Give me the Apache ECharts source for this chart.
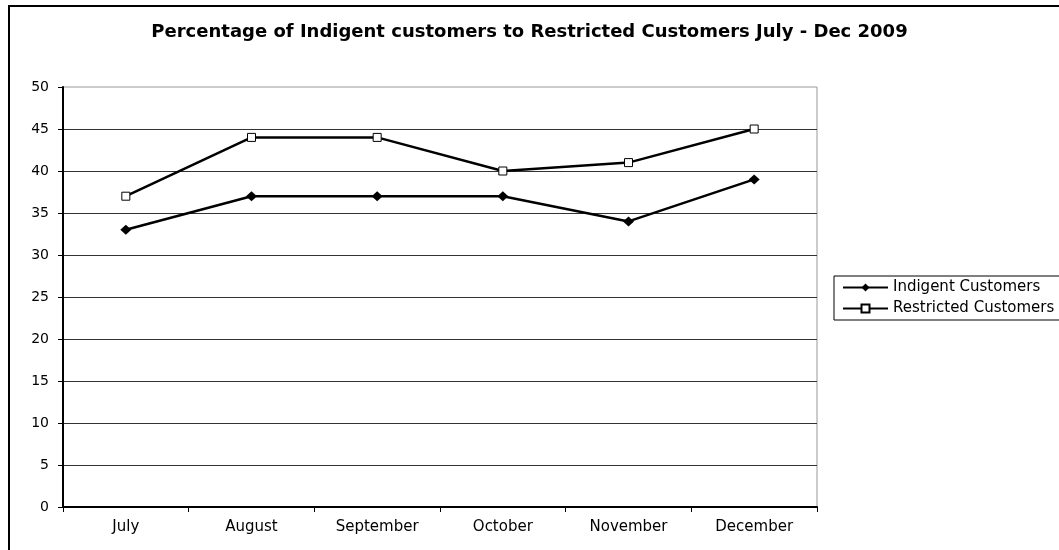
<!DOCTYPE html>
<html>
<head>
<meta charset="utf-8">
<script src="https://cdn.jsdelivr.net/npm/echarts@6/dist/echarts.min.js"></script>
<style>
html,body{margin:0;padding:0;background:#fff;}
#chart{width:1059px;height:550px;}
</style>
</head>
<body>
<div id="chart"></div>
<script>
const titleText = 'Percentage of Indigent customers to Restricted Customers July - Dec 2009';
const categories = ['July', 'August', 'September', 'October', 'November', 'December'];
const indigent = [33, 37, 37, 37, 34, 39];
const restricted = [37, 44, 44, 40, 41, 45];
const seriesNames = ['Indigent Customers', 'Restricted Customers'];

const chart = echarts.init(document.getElementById('chart'), null, {renderer: 'canvas'});
const FONT = 'DejaVu Sans';
chart.setOption({
  animation: false,
  backgroundColor: '#fff',
  title: {
    text: titleText,
    left: 'center',
    top: 23,
    padding: 0,
    textStyle: {fontFamily: FONT, fontWeight: 'bold', fontSize: 18, color: '#000'}
  },
  graphic: [{
    type: 'rect', silent: true, z: -10,
    shape: {x: 9, y: 6, width: 1200, height: 700},
    style: {fill: null, stroke: '#000', lineWidth: 2}
  }],
  legend: {
    orient: 'vertical',
    left: 834,
    top: 276,
    padding: [4, 6, 4, 8],
    itemGap: 6,
    itemWidth: 45,
    itemHeight: 10,
    borderColor: '#000',
    borderWidth: 1,
    data: seriesNames,
    textStyle: {fontFamily: FONT, fontSize: 15, color: '#000'}
  },
  grid: {
    left: 63, right: 242, top: 87, bottom: 43,
    show: true, borderColor: '#999', borderWidth: 1, containLabel: false
  },
  xAxis: {
    type: 'category',
    data: categories,
    boundaryGap: true,
    axisLine: {show: true, lineStyle: {color: '#000', width: 2}},
    axisTick: {show: true, inside: false, length: 5, alignWithLabel: false, lineStyle: {color: '#000', width: 1}},
    axisLabel: {fontFamily: FONT, fontSize: 15, color: '#000', margin: 13},
    splitLine: {show: false}
  },
  yAxis: {
    type: 'value',
    min: 0, max: 50, interval: 5,
    axisLine: {show: true, lineStyle: {color: '#000', width: 2}},
    axisTick: {show: true, length: 5, lineStyle: {color: '#000', width: 1}},
    axisLabel: {fontFamily: FONT, fontSize: 14, color: '#000', margin: 14},
    splitLine: {show: true, showMinLine: false, showMaxLine: false, lineStyle: {color: '#333', width: 1}}
  },
  series: [{
    name: seriesNames[0],
    type: 'line',
    data: indigent,
    symbol: 'diamond',
    symbolSize: [11, 10],
    showAllSymbol: true,
    lineStyle: {color: '#000', width: 2.5},
    itemStyle: {color: '#000', borderColor: '#000', borderWidth: 0},
    emphasis: {disabled: true}
  }, {
    name: seriesNames[1],
    type: 'line',
    data: restricted,
    symbol: 'rect',
    symbolSize: 8,
    showAllSymbol: true,
    lineStyle: {color: '#000', width: 2.5},
    itemStyle: {color: '#fff', borderColor: '#000', borderWidth: 1},
    emphasis: {disabled: true}
  }]
});
</script>
</body>
</html>
